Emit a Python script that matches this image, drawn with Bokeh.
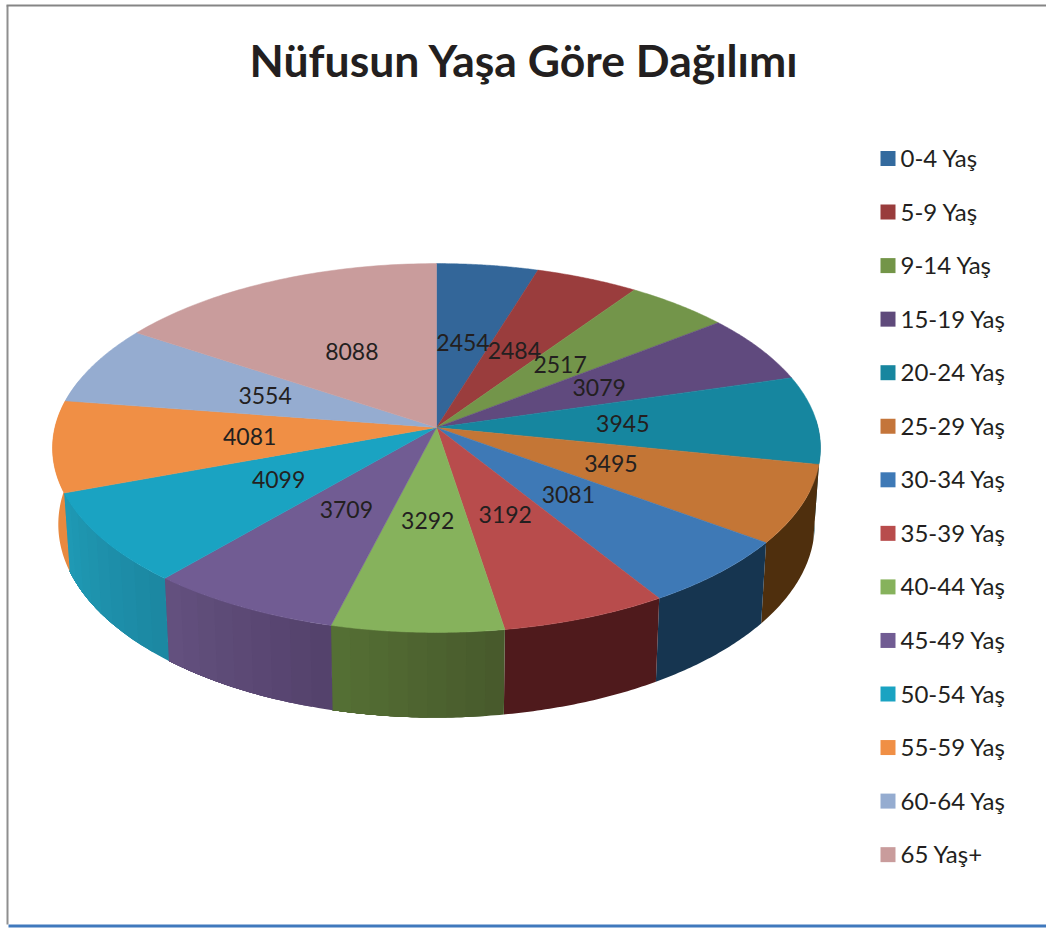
import numpy as np
from bokeh.core.properties import value
from bokeh.embed import file_html
from bokeh.models import Range1d
from bokeh.plotting import figure
from bokeh.resources import INLINE

title = "Nüfusun Yaşa Göre Dağılımı"
categories = ["0-4 Yaş", "5-9 Yaş", "9-14 Yaş", "15-19 Yaş", "20-24 Yaş", "25-29 Yaş", "30-34 Yaş",
              "35-39 Yaş", "40-44 Yaş", "45-49 Yaş", "50-54 Yaş", "55-59 Yaş", "60-64 Yaş", "65 Yaş+"]
values = [2454, 2484, 2517, 3079, 3945, 3495, 3081, 3192, 3292, 3709, 4099, 4081, 3554, 8088]
top_colors = ["#336699", "#9a3d3d", "#73954a", "#604a7e", "#16869f", "#c47636", "#3e79b6",
              "#b84c4c", "#86b25c", "#715c93", "#1aa3c2", "#f08f45", "#95acd0", "#c99c9c"]
legend_colors = ["#336a9e", "#993c3c", "#739548", "#5f4a7b", "#17869f", "#c4753a", "#3e79b6",
                 "#b84c4c", "#86b25c", "#715c93", "#1aa3c2", "#f08f45", "#95acd0", "#c99c9c"]
side_start = ["#1c3a57", "#4f1a1c", "#3f5429", "#3a2a4a", "#0f4a58", "#4f2f0d", "#163550",
              "#4f1a1c", "#47592b", "#53416b", "#1c87a1", "#e8893f", "#95acd0", "#c99c9c"]
side_end = ["#1c3a57", "#4f1a1c", "#3f5429", "#3a2a4a", "#0f4a58", "#4f2f0d", "#163550",
            "#4f1a1c", "#557035", "#64517f", "#1f9ab5", "#e8893f", "#95acd0", "#c99c9c"]

CX, CY, A, B, K = 436.0, 425.0, 381.1, 181.7, 0.122
APEX_Y = 427.0


def project(theta_deg, r=1.0):
    t = np.radians(theta_deg)
    X, Y = r * np.sin(t), r * np.cos(t)
    w = 1 + K * Y
    return CX + A * X / w, CY - B * Y / w


def project_low(theta_deg):
    x, y = project(theta_deg)
    return CX + (x - CX) * 0.985, 1.048 * y + 54.8


def hex_rgb(c):
    return np.array([int(c[i:i + 2], 16) for i in (1, 3, 5)], dtype=float)


def rgb_hex(v):
    return "#%02x%02x%02x" % tuple(int(round(a)) for a in v)


edges = np.concatenate([[0], np.cumsum(values)]) / sum(values) * 360.0

p = figure(width=1046, height=931, output_backend="svg", toolbar_location=None,
           x_axis_type=None, y_axis_type=None, min_border=0,
           x_range=Range1d(0, 1046), y_range=Range1d(931, 0), margin=0)
p.grid.visible = False
p.outline_line_color = None
p.background_fill_color = "white"

# page borders
p.line([7, 7], [5, 924], line_color="#8f8f8f", line_width=2)
p.line([6, 1046], [5, 5], line_color="#858585", line_width=2)
p.line([8, 1046], [925.5, 925.5], line_color="#4079bd", line_width=3)

# side wall
xs, ys, cols = [], [], []
for i in range(len(values)):
    a0, a1 = edges[i], edges[i + 1]
    if a1 <= 88 or a0 >= 285:
        continue
    lo, hi = max(a0, 88), min(a1, 285)
    n = 1 if side_start[i] == side_end[i] else 9
    grid = np.linspace(lo, hi, n + 1)
    c0, c1 = hex_rgb(side_start[i]), hex_rgb(side_end[i])
    for j in range(n):
        # each strip runs to the slice's far end, so later strips paint over it
        g = np.linspace(grid[j], hi, 40)
        tx, ty = project(g)
        bx, by = project_low(g)
        xs.append(list(tx) + list(bx[::-1]))
        ys.append(list(ty) + list(by[::-1]))
        f = (j + 0.5) / n
        cols.append(rgb_hex(c0 + (c1 - c0) * f))
p.patches(xs, ys, fill_color=cols, line_color=None)

# top surface
xs, ys = [], []
for i in range(len(values)):
    g = np.linspace(edges[i], edges[i + 1], 60)
    tx, ty = project(g)
    xs.append([CX] + list(tx))
    ys.append([APEX_Y] + list(ty))
p.patches(xs, ys, fill_color=top_colors, line_color=top_colors, line_width=0.5)

# slice labels
mid = (edges[:-1] + edges[1:]) / 2
lx, ly = project(mid, 0.49)
p.text(lx, ly + 0.5, text=[str(v) for v in values], text_font=value("Lato"), text_font_size="23px",
       text_color="#231f20", text_align="center", text_baseline="middle")

# legend
rows = 158 + 53.55 * np.arange(len(categories))
p.rect(887.5, rows, width=15, height=15, fill_color=legend_colors, line_color=None)
p.text(900, rows - 1, text=categories, text_font=value("Lato"), text_font_size="24px",
       text_color="#231f20", text_align="left", text_baseline="middle")

# title
p.text([524], [59], text=[title], text_font=value("Lato"), text_font_size="44.5px",
       text_font_style="bold", text_color="#231f20", text_align="center", text_baseline="middle")

open("out.html", "w").write(file_html(p, INLINE))
